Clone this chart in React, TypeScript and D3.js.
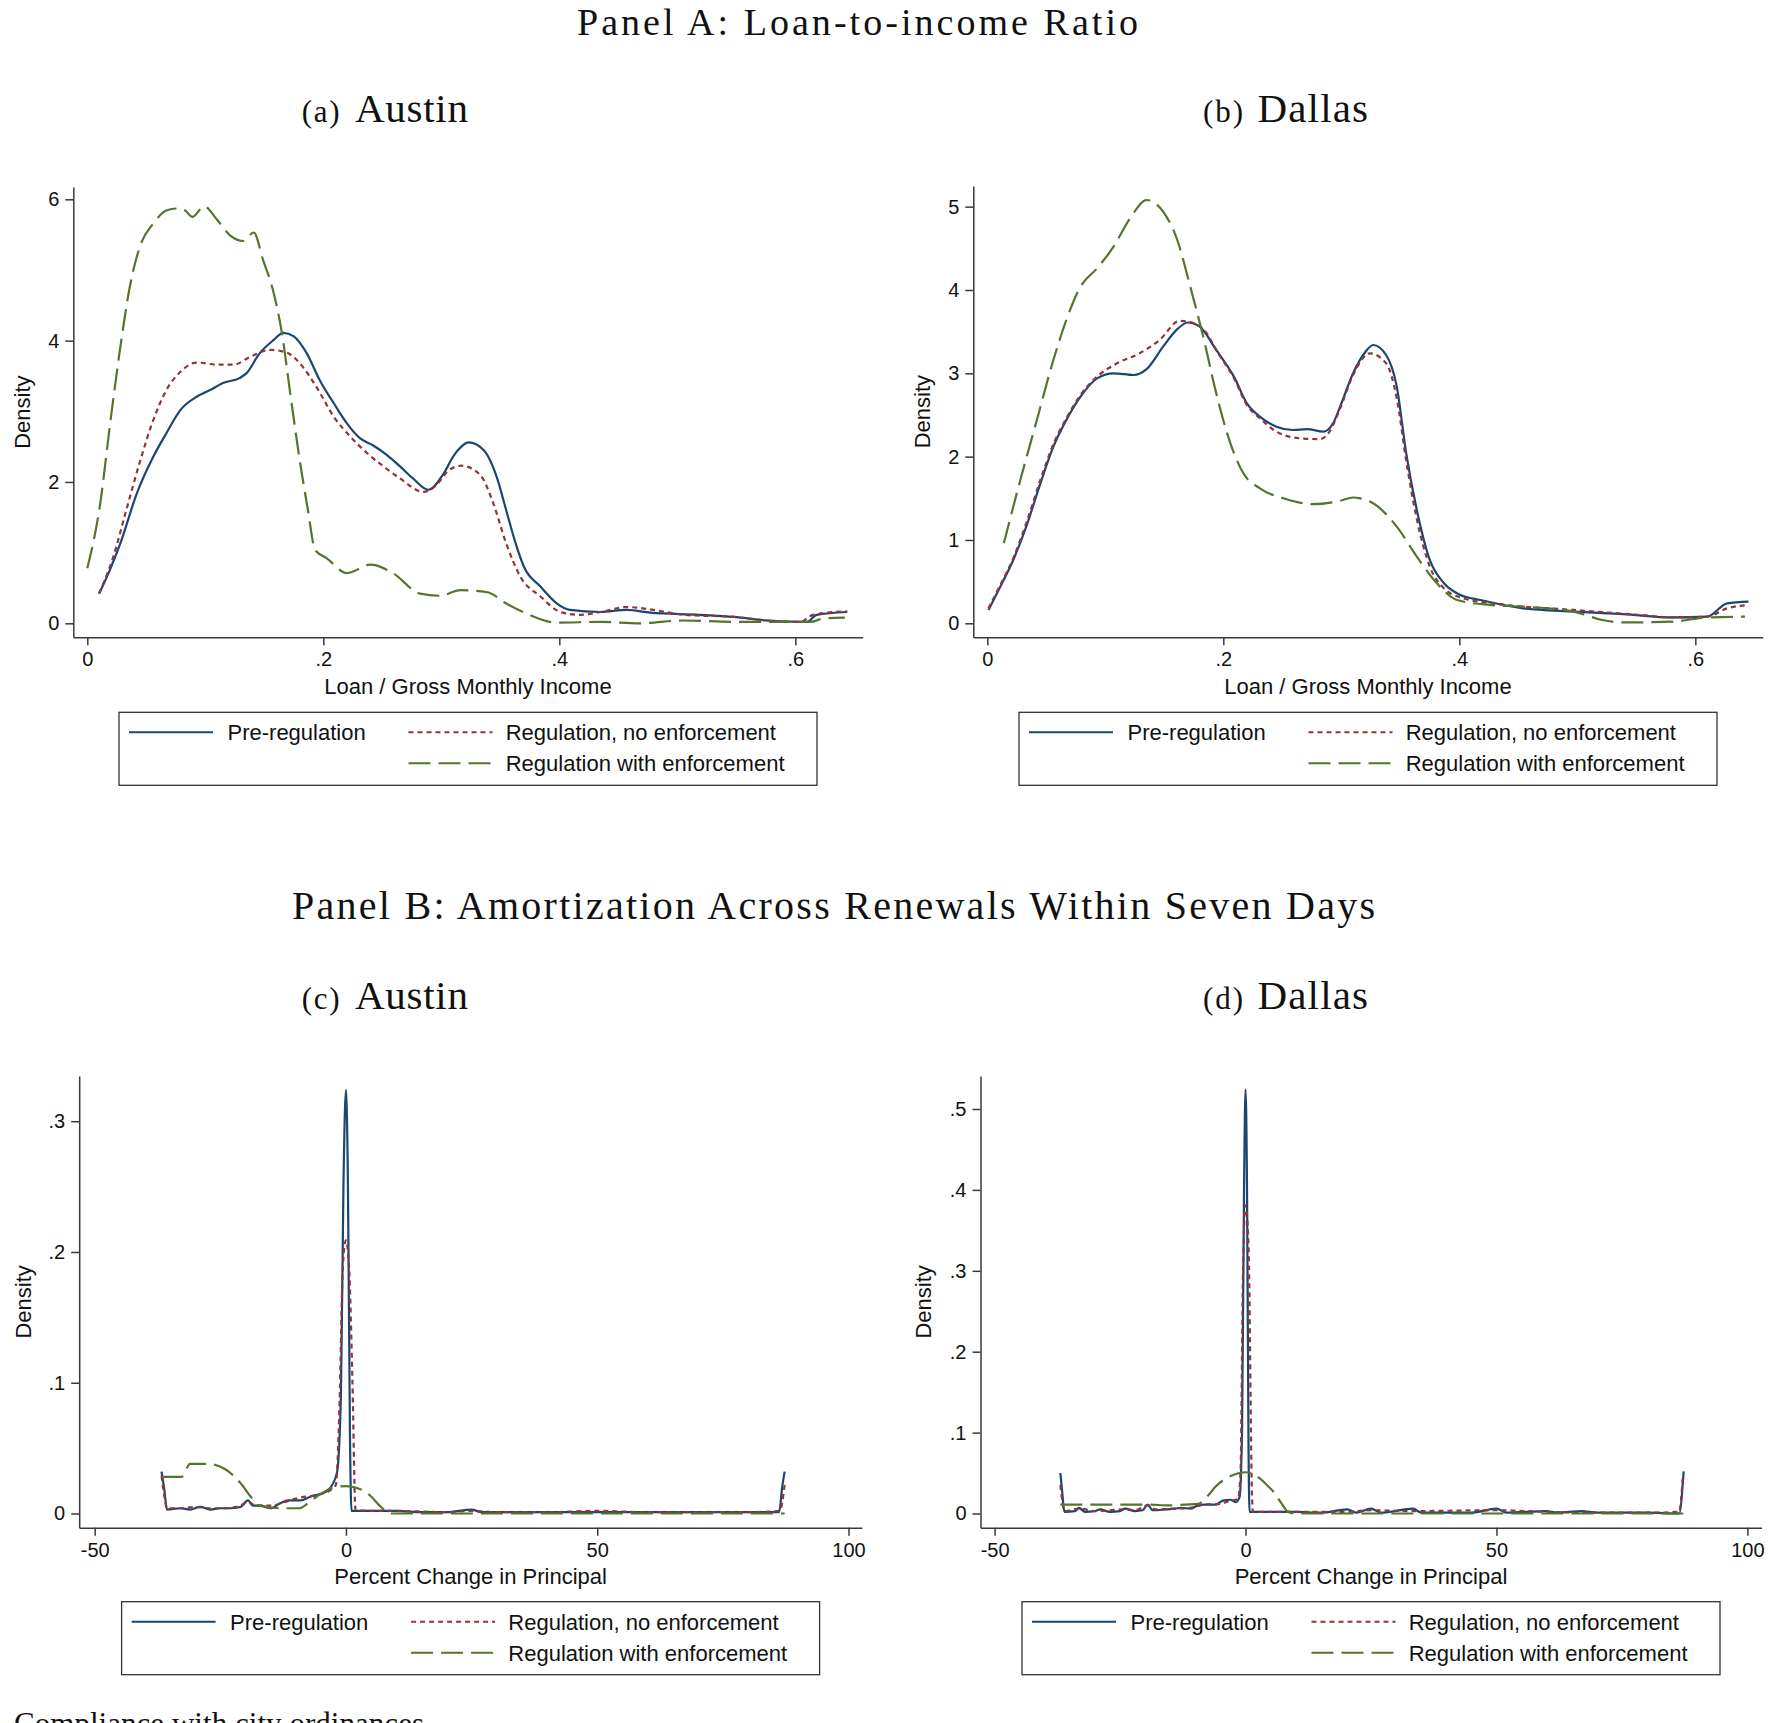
import React, { useRef, useEffect } from "react";
import * as d3 from "d3";

type Pt = [number, number];

const W = 1783;
const H = 1723;

const serifFont = "'Liberation Serif', 'Times New Roman', serif";
const sansFont = "'Liberation Sans', Arial, Helvetica, sans-serif";
const axisColor = "#3a3a3a";

// legend entries, Stata s2color palette
const seriesNames = ["Pre-regulation", "Regulation, no enforcement", "Regulation with enforcement"];
const seriesColors = ["#1a476f", "#90353b", "#55752f"];
const seriesDash = [null, "5 4", "22 8"];

const ltiTicks = [0, 0.2, 0.4, 0.6];
const amortTicks = [-50, 0, 50, 100];
const austinLtiYTicks = [0, 2, 4, 6];
const dallasLtiYTicks = [0, 1, 2, 3, 4, 5];
const austinAmortYTicks = [0, 0.1, 0.2, 0.3];
const dallasAmortYTicks = [0, 0.1, 0.2, 0.3, 0.4, 0.5];

// Panel A: loan / gross monthly income, kernel densities
const austinLtiPre: Pt[] = [
  [0.010, 0.42], [0.019, 0.75], [0.028, 1.13], [0.042, 1.84], [0.056, 2.36], [0.067, 2.69],
  [0.079, 3.02], [0.093, 3.21], [0.104, 3.30], [0.115, 3.40], [0.129, 3.47], [0.135, 3.54],
  [0.146, 3.82], [0.158, 4.01], [0.166, 4.11], [0.175, 4.06], [0.186, 3.82], [0.197, 3.44],
  [0.209, 3.11], [0.220, 2.83], [0.231, 2.62], [0.242, 2.52], [0.254, 2.38], [0.265, 2.22],
  [0.276, 2.05], [0.289, 1.89], [0.302, 2.12], [0.310, 2.36], [0.317, 2.50], [0.323, 2.56],
  [0.336, 2.45], [0.347, 2.07], [0.355, 1.60], [0.363, 1.13], [0.370, 0.80], [0.384, 0.52],
  [0.398, 0.28], [0.409, 0.19], [0.435, 0.16], [0.457, 0.19], [0.477, 0.15], [0.519, 0.12],
  [0.548, 0.09], [0.576, 0.04], [0.610, 0.02], [0.618, 0.12], [0.644, 0.16],
];
const austinLtiNoEnf: Pt[] = [
  [0.010, 0.42], [0.022, 0.94], [0.033, 1.60], [0.045, 2.31], [0.056, 2.88], [0.067, 3.30],
  [0.079, 3.56], [0.093, 3.69], [0.110, 3.66], [0.124, 3.66], [0.138, 3.77], [0.155, 3.87],
  [0.169, 3.83], [0.180, 3.68], [0.194, 3.35], [0.209, 2.92], [0.223, 2.64], [0.237, 2.41],
  [0.251, 2.22], [0.265, 2.05], [0.285, 1.86], [0.296, 1.96], [0.306, 2.16], [0.317, 2.23],
  [0.333, 2.10], [0.344, 1.70], [0.355, 1.13], [0.367, 0.66], [0.384, 0.38], [0.401, 0.16],
  [0.418, 0.12], [0.435, 0.16], [0.457, 0.23], [0.480, 0.19], [0.505, 0.12], [0.548, 0.09],
  [0.576, 0.04], [0.604, 0.02], [0.615, 0.12], [0.644, 0.17],
];
const austinLtiEnf: Pt[] = [
  [0.000, 0.78], [0.011, 1.70], [0.019, 2.78], [0.028, 3.91], [0.036, 4.76], [0.045, 5.35],
  [0.056, 5.66], [0.067, 5.84], [0.076, 5.87], [0.083, 5.84], [0.089, 5.75], [0.099, 5.90],
  [0.110, 5.71], [0.121, 5.49], [0.132, 5.41], [0.141, 5.53], [0.149, 5.14], [0.158, 4.67],
  [0.165, 4.10], [0.172, 3.25], [0.180, 2.31], [0.187, 1.60], [0.193, 1.04], [0.203, 0.92],
  [0.220, 0.71], [0.240, 0.83], [0.259, 0.71], [0.282, 0.42], [0.299, 0.39], [0.316, 0.47],
  [0.339, 0.44], [0.355, 0.28], [0.372, 0.14], [0.398, 0.01], [0.435, 0.02], [0.468, 0.00],
  [0.505, 0.04], [0.548, 0.02], [0.576, 0.02], [0.613, 0.02], [0.624, 0.07], [0.642, 0.08],
];

const dallasLtiPre: Pt[] = [
  [0.001, 0.16], [0.011, 0.44], [0.022, 0.76], [0.033, 1.16], [0.045, 1.68], [0.056, 2.12],
  [0.067, 2.44], [0.079, 2.72], [0.093, 2.94], [0.107, 3.00], [0.124, 2.98], [0.135, 3.05],
  [0.149, 3.32], [0.161, 3.53], [0.170, 3.61], [0.180, 3.56], [0.194, 3.28], [0.209, 2.96],
  [0.220, 2.64], [0.231, 2.48], [0.245, 2.36], [0.259, 2.32], [0.271, 2.33], [0.285, 2.30],
  [0.293, 2.40], [0.299, 2.60], [0.310, 3.00], [0.320, 3.25], [0.327, 3.34], [0.338, 3.22],
  [0.347, 2.84], [0.355, 2.04], [0.364, 1.36], [0.375, 0.76], [0.387, 0.48], [0.401, 0.34],
  [0.418, 0.28], [0.454, 0.18], [0.497, 0.14], [0.539, 0.11], [0.581, 0.07], [0.610, 0.08],
  [0.627, 0.24], [0.645, 0.26],
];
const dallasLtiNoEnf: Pt[] = [
  [0.001, 0.18], [0.011, 0.46], [0.022, 0.78], [0.033, 1.20], [0.045, 1.72], [0.056, 2.15],
  [0.067, 2.46], [0.079, 2.74], [0.093, 2.96], [0.110, 3.12], [0.129, 3.24], [0.146, 3.40],
  [0.163, 3.63], [0.175, 3.60], [0.186, 3.48], [0.194, 3.28], [0.209, 2.94], [0.220, 2.62],
  [0.231, 2.46], [0.245, 2.30], [0.265, 2.22], [0.282, 2.21], [0.290, 2.30], [0.299, 2.58],
  [0.310, 2.98], [0.324, 3.24], [0.338, 3.12], [0.347, 2.70], [0.355, 1.95], [0.364, 1.25],
  [0.375, 0.68], [0.387, 0.42], [0.401, 0.31], [0.440, 0.22], [0.497, 0.16], [0.553, 0.10],
  [0.581, 0.07], [0.610, 0.08], [0.627, 0.18], [0.645, 0.22],
];
const dallasLtiEnf: Pt[] = [
  [0.014, 0.96], [0.028, 1.72], [0.042, 2.44], [0.056, 3.16], [0.067, 3.64], [0.079, 4.04],
  [0.093, 4.26], [0.107, 4.52], [0.121, 4.86], [0.135, 5.08], [0.149, 4.94], [0.161, 4.60],
  [0.172, 4.04], [0.183, 3.44], [0.194, 2.76], [0.206, 2.16], [0.217, 1.80], [0.231, 1.62],
  [0.251, 1.50], [0.276, 1.43], [0.299, 1.47], [0.310, 1.51], [0.316, 1.50], [0.327, 1.44],
  [0.347, 1.16], [0.364, 0.80], [0.381, 0.48], [0.398, 0.28], [0.426, 0.22], [0.454, 0.20],
  [0.497, 0.14], [0.521, 0.04], [0.539, 0.01], [0.581, 0.02], [0.610, 0.07], [0.642, 0.08],
];

// Panel B: percent change in principal across renewals within seven days
const austinAmortPre: Pt[] = [
  [-36.7, 0.032], [-36.2, 0.020], [-35.6, 0.003], [-33, 0.004], [-31, 0.003], [-29, 0.005],
  [-27, 0.003], [-25, 0.004], [-23, 0.004], [-21, 0.005], [-19.5, 0.010], [-18.5, 0.006],
  [-17, 0.006], [-15, 0.004], [-13, 0.008], [-11.5, 0.010], [-9, 0.010], [-7, 0.013],
  [-5, 0.015], [-3.5, 0.018], [-1.8, 0.031], [-1.0, 0.09], [-0.5, 0.25], [0, 0.324],
  [0.4, 0.25], [0.8, 0.06], [1.1, 0.002], [5, 0.002], [10, 0.002], [15, 0.001], [20, 0.001],
  [25, 0.003], [27, 0.001], [35, 0.001], [40, 0.001], [50, 0.001], [60, 0.001], [70, 0.001],
  [80, 0.001], [86.2, 0.001], [86.8, 0.020], [87.3, 0.032],
];
const austinAmortNoEnf: Pt[] = [
  [-36.7, 0.029], [-36.2, 0.015], [-35.6, 0.004], [-33, 0.004], [-30, 0.005], [-27, 0.004],
  [-24, 0.004], [-21, 0.006], [-19.5, 0.009], [-18, 0.006], [-15, 0.006], [-12, 0.009],
  [-9.3, 0.012], [-6, 0.014], [-3, 0.018], [-2, 0.022], [-1.3, 0.08], [-0.6, 0.19],
  [0, 0.209], [0.6, 0.19], [1.3, 0.10], [1.9, 0.003], [5, 0.002], [10, 0.002], [20, 0.001],
  [25, 0.002], [30, 0.001], [40, 0.001], [50, 0.002], [60, 0.001], [70, 0.001], [80, 0.001],
  [86.3, 0.002], [87.3, 0.022],
];
const austinAmortEnf: Pt[] = [
  [-36.7, 0.028], [-35, 0.028], [-32.7, 0.028], [-31, 0.038], [-29, 0.038], [-27.5, 0.038],
  [-24.1, 0.034], [-20.7, 0.022], [-19, 0.013], [-17.3, 0.006], [-13, 0.004], [-9.3, 0.004],
  [-7.5, 0.008], [-5.8, 0.013], [-2.4, 0.020], [0, 0.021], [3.3, 0.018], [5, 0.013],
  [6.7, 0.006], [9, 0.0], [20, 0.0], [40, 0.0], [60, 0.0], [80, 0.0], [87.3, 0.0],
];

const dallasAmortPre: Pt[] = [
  [-36.9, 0.050], [-36.5, 0.025], [-36.1, 0.002], [-34, 0.003], [-33.2, 0.007], [-32, 0.002],
  [-30, 0.003], [-29, 0.005], [-27, 0.002], [-25, 0.003], [-24, 0.006], [-22, 0.003],
  [-20.5, 0.004], [-19.5, 0.011], [-18.5, 0.004], [-16, 0.005], [-14, 0.006], [-12.8, 0.007],
  [-11, 0.006], [-9.5, 0.010], [-8.3, 0.011], [-6, 0.011], [-4.5, 0.016], [-3, 0.017],
  [-2, 0.014], [-1.2, 0.020], [-0.7, 0.10], [-0.3, 0.40], [0, 0.524], [0.3, 0.40], [0.6, 0.08],
  [0.8, 0.002], [5, 0.002], [10, 0.002], [15, 0.001], [20.3, 0.005], [22, 0.001], [25, 0.006],
  [27, 0.001], [33.4, 0.006], [35, 0.001], [45, 0.001], [50, 0.006], [52, 0.001], [60, 0.003],
  [62, 0.001], [67, 0.003], [70, 0.001], [80, 0.001], [86.4, 0.0], [87.3, 0.052],
];
const dallasAmortNoEnf: Pt[] = [
  [-36.9, 0.035], [-36.5, 0.015], [-36.1, 0.003], [-33, 0.006], [-30, 0.003], [-27, 0.004],
  [-24, 0.005], [-22, 0.004], [-19.5, 0.010], [-18, 0.005], [-14, 0.006], [-11, 0.007],
  [-8.3, 0.011], [-5, 0.012], [-3, 0.016], [-1.5, 0.018], [-1.0, 0.05], [-0.5, 0.30],
  [0, 0.381], [0.6, 0.33], [1.3, 0.02], [1.5, 0.002], [10, 0.002], [20, 0.002], [25, 0.004],
  [33, 0.003], [50, 0.004], [60, 0.002], [70, 0.001], [80, 0.001], [86.4, 0.002], [87.1, 0.043],
];
const dallasAmortEnf: Pt[] = [
  [-36.9, 0.011], [-30, 0.011], [-20, 0.011], [-15, 0.010], [-12, 0.011], [-9.4, 0.012],
  [-7.5, 0.022], [-6, 0.033], [-4, 0.043], [-2.7, 0.047], [0, 0.051], [1.5, 0.049],
  [2.9, 0.043], [4.3, 0.035], [5.7, 0.026], [7, 0.014], [8.5, 0.002], [10, 0.0], [30, 0.0],
  [50, 0.0], [70, 0.0], [87.3, 0.0],
];

// frame = pixel box of the plot region, domains chosen so ticks land where Stata put them
const panels = [
  {
    frame: { left: 73.3, right: 862.7, top: 187, bottom: 637.3 },
    xDomain: [-0.01186, 0.6571], yDomain: [-0.198, 6.174],
    xTicks: ltiTicks, yTicks: austinLtiYTicks, xTitle: "Loan / Gross Monthly Income",
    yTitleX: 29.5, legendGap: 75,
    series: [austinLtiPre, austinLtiNoEnf, austinLtiEnf],
  },
  {
    frame: { left: 973.3, right: 1762.7, top: 186, bottom: 637.3 },
    xDomain: [-0.01186, 0.6571], yDomain: [-0.168, 5.248],
    xTicks: ltiTicks, yTicks: dallasLtiYTicks, xTitle: "Loan / Gross Monthly Income",
    yTitleX: 929.5, legendGap: 75,
    series: [dallasLtiPre, dallasLtiNoEnf, dallasLtiEnf],
  },
  {
    frame: { left: 79.2, right: 862, top: 1076, bottom: 1527.7 },
    xDomain: [-53.08, 102.69], yDomain: [-0.01086, 0.3346],
    xTicks: amortTicks, yTicks: austinAmortYTicks, xTitle: "Percent Change in Principal",
    yTitleX: 31, legendGap: 74,
    series: [austinAmortPre, austinAmortNoEnf, austinAmortEnf],
  },
  {
    frame: { left: 980.5, right: 1761.5, top: 1076, bottom: 1527.7 },
    xDomain: [-52.81, 102.81], yDomain: [-0.01755, 0.5408],
    xTicks: amortTicks, yTicks: dallasAmortYTicks, xTitle: "Percent Change in Principal",
    yTitleX: 931, legendGap: 74,
    series: [dallasAmortPre, dallasAmortNoEnf, dallasAmortEnf],
  },
];

// Stata drops the leading zero: .2, .4
const stataNum = (d: number) => String(d).replace(/^(-?)0\./, "$1.");

const drawPanel = (svg: any, p: any) => {
  const { left, right, top, bottom } = p.frame;
  const x = d3.scaleLinear().domain(p.xDomain).range([left, right]);
  const y = d3.scaleLinear().domain(p.yDomain).range([bottom, top]);
  const g = svg.append("g");

  const line = d3.line<Pt>()
    .x(d => x(d[0]))
    .y(d => y(d[1]))
    .curve(d3.curveMonotoneX);

  p.series.forEach((s: Pt[], i: number) => {
    g.append("path")
      .datum(s)
      .attr("d", line)
      .attr("fill", "none")
      .attr("stroke", seriesColors[i])
      .attr("stroke-width", 2.2)
      .attr("stroke-linejoin", "round")
      .attr("stroke-dasharray", seriesDash[i]);
  });

  const xAxis = g.append("g")
    .attr("transform", `translate(0,${bottom})`)
    .call(d3.axisBottom(x).tickValues(p.xTicks).tickSize(8).tickPadding(7).tickSizeOuter(0).tickFormat(stataNum as any));
  const yAxis = g.append("g")
    .attr("transform", `translate(${left},0)`)
    .call(d3.axisLeft(y).tickValues(p.yTicks).tickSize(8).tickPadding(6).tickSizeOuter(0).tickFormat(stataNum as any));

  [xAxis, yAxis].forEach(a => {
    a.attr("font-family", sansFont).attr("font-size", 20);
    a.select(".domain").attr("stroke", axisColor).attr("stroke-width", 1.5);
    a.selectAll(".tick line").attr("stroke", axisColor).attr("stroke-width", 1.5);
    a.selectAll(".tick text").attr("fill", "#111");
  });

  // axis titles
  g.append("text")
    .attr("x", (left + right) / 2)
    .attr("y", bottom + 56.5)
    .attr("text-anchor", "middle")
    .style("font-family", sansFont)
    .style("font-size", "22px")
    .attr("fill", "#111")
    .text(p.xTitle);

  g.append("text")
    .attr("transform", `translate(${p.yTitleX},${(top + bottom) / 2}) rotate(-90)`)
    .attr("text-anchor", "middle")
    .style("font-family", sansFont)
    .style("font-size", "22px")
    .attr("fill", "#111")
    .text("Density");

  // legend box under the plot
  const boxW = 698;
  const boxH = 73;
  const bx = (left + right) / 2 - boxW / 2;
  const by = bottom + p.legendGap;
  const legend = g.append("g").attr("transform", `translate(${bx},${by})`);
  legend.append("rect")
    .attr("width", boxW)
    .attr("height", boxH)
    .attr("fill", "white")
    .attr("stroke", "#333")
    .attr("stroke-width", 1.3);

  const slots = [
    { col: 0, row: 0 },
    { col: 1, row: 0 },
    { col: 1, row: 1 },
  ];
  const colX = [10, 289.5];
  const textX = [108.5, 386.7];
  const rowY = [20, 51];

  seriesNames.forEach((name, i) => {
    const { col, row } = slots[i];
    legend.append("line")
      .attr("x1", colX[col])
      .attr("x2", colX[col] + 84)
      .attr("y1", rowY[row])
      .attr("y2", rowY[row])
      .attr("stroke", seriesColors[i])
      .attr("stroke-width", 2)
      .attr("stroke-dasharray", seriesDash[i]);
    legend.append("text")
      .attr("x", textX[col])
      .attr("y", rowY[row] + 8)
      .style("font-family", sansFont)
      .style("font-size", "22px")
      .attr("fill", "#111")
      .text(name);
  });
};

const App = () => {
  const svgRef = useRef<SVGSVGElement>(null);

  useEffect(() => {
    const svg = d3.select(svgRef.current);
    svg.selectAll("*").remove();

    svg.append("rect").attr("width", W).attr("height", H).attr("fill", "white");

    const serif = (txt: string, xPos: number, yPos: number, size: number, len: number) =>
      svg.append("text")
        .attr("x", xPos)
        .attr("y", yPos)
        .attr("textLength", len)
        .attr("lengthAdjust", "spacing")
        .style("font-family", serifFont)
        .style("font-size", `${size}px`)
        .attr("fill", "#111")
        .text(txt);

    serif("Panel A: Loan-to-income Ratio", 577, 35, 38, 561);
    serif("(a)", 301.7, 122.3, 31, 38);
    serif("Austin", 355, 122.3, 41, 113);
    serif("(b)", 1203, 122.3, 31, 40);
    serif("Dallas", 1257.5, 122.3, 41, 110.5);

    serif("Panel B: Amortization Across Renewals Within Seven Days", 292, 919, 40, 1083);
    serif("(c)", 301.7, 1009, 31, 38);
    serif("Austin", 355, 1009, 41, 113);
    serif("(d)", 1203, 1009, 31, 40);
    serif("Dallas", 1257.5, 1009, 41, 110.5);

    serif("Compliance with city ordinances", 14, 1734, 31, 410);

    panels.forEach(p => drawPanel(svg, p));
  }, []);

  return (
    <svg
      ref={svgRef}
      width={W}
      height={H}
      style={{ position: "absolute", left: 0, top: 0, display: "block", background: "white" }}
    />
  );
};

export default App;
